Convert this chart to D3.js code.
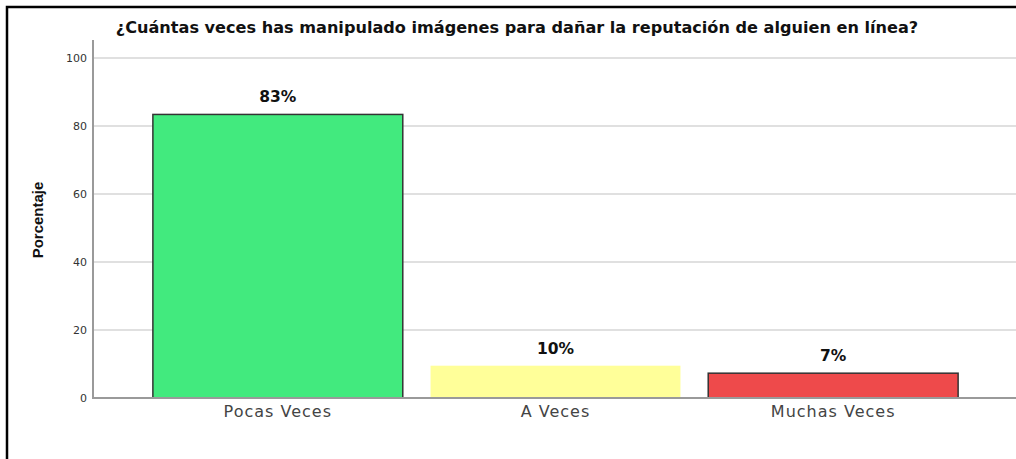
<!DOCTYPE html>
<html>
<head>
<meta charset="utf-8">
<script src="https://cdn.jsdelivr.net/npm/d3@7"></script>
<style>
  body { margin: 0; background: #fff; }
  svg { display: block; }
</style>
</head>
<body>
<svg width="1016" height="459"></svg>
<script>
var categories = ['Pocas Veces', 'A Veces', 'Muchas Veces'];
var values = [83.4, 9.5, 7.3];
var labels = ['83%', '10%', '7%'];
var colors = ['#42ea7e', '#ffff99', '#ee4a4b'];
var strokes = ['#333', 'none', '#333'];
var yTicks = [0, 20, 40, 60, 80, 100];

var FONT = 'DejaVu Sans, Verdana, sans-serif';

function drawChart() {
  var svg = d3.select('svg');
  svg.selectAll('*').remove();

  // outer frame
  svg.append('path')
    .attr('d', 'M7,459 V7 H1016')
    .attr('fill', 'none')
    .attr('stroke', '#000')
    .attr('stroke-width', 2.5);

  var x = d3.scaleBand()
    .domain(categories)
    .range([139, 972])
    .paddingInner(0.1)
    .paddingOuter(0.05);
  var y = d3.scaleLinear().domain([0, 100]).range([398, 58]);

  // gridlines
  svg.append('g')
    .selectAll('line')
    .data(yTicks.filter(function (d) { return d > 0; }))
    .enter()
    .append('line')
    .attr('x1', 93)
    .attr('x2', 1016)
    .attr('y1', function (d) { return y(d); })
    .attr('y2', function (d) { return y(d); })
    .attr('stroke', '#d6d6d6')
    .attr('stroke-width', 1.5);

  // y axis
  var yAxis = svg.append('g')
    .attr('transform', 'translate(93,0)')
    .call(d3.axisLeft(y).tickValues(yTicks).tickSize(0).tickPadding(6));
  yAxis.select('.domain').remove();
  yAxis.selectAll('text')
    .attr('font-family', FONT)
    .attr('font-size', 11)
    .attr('fill', '#333');

  svg.append('line')
    .attr('x1', 93).attr('x2', 93)
    .attr('y1', 40).attr('y2', 399)
    .attr('stroke', '#9a9a9a')
    .attr('stroke-width', 2);

  // bars
  svg.append('g')
    .selectAll('rect')
    .data(values)
    .enter()
    .append('rect')
    .attr('x', function (d, i) { return x(categories[i]); })
    .attr('y', function (d) { return y(d); })
    .attr('width', x.bandwidth())
    .attr('height', function (d) { return y(0) - y(d); })
    .attr('fill', function (d, i) { return colors[i]; })
    .attr('stroke', function (d, i) { return strokes[i]; })
    .attr('stroke-width', 1.5);

  // baseline
  svg.append('line')
    .attr('x1', 92).attr('x2', 1016)
    .attr('y1', 398).attr('y2', 398)
    .attr('stroke', '#9a9a9a')
    .attr('stroke-width', 2);

  // value labels
  svg.append('g')
    .selectAll('text')
    .data(values)
    .enter()
    .append('text')
    .attr('x', function (d, i) { return x(categories[i]) + x.bandwidth() / 2; })
    .attr('y', function (d) { return y(d) - 12; })
    .attr('text-anchor', 'middle')
    .attr('font-family', FONT)
    .attr('font-weight', 'bold')
    .attr('font-size', 15.5)
    .attr('fill', '#111')
    .text(function (d, i) { return labels[i]; });

  // category labels
  svg.append('g')
    .selectAll('text')
    .data(categories)
    .enter()
    .append('text')
    .attr('x', function (d) { return x(d) + x.bandwidth() / 2; })
    .attr('y', 417)
    .attr('text-anchor', 'middle')
    .attr('font-family', FONT)
    .attr('font-size', 16)
    .attr('letter-spacing', 1)
    .attr('fill', '#444')
    .text(function (d) { return d; });

  // title, sized to span the same width as the original
  var title = svg.append('text')
    .attr('x', 517)
    .attr('y', 33)
    .attr('text-anchor', 'middle')
    .attr('font-family', FONT)
    .attr('font-weight', 'bold')
    .attr('font-size', 15)
    .attr('fill', '#111')
    .text('¿Cuántas veces has manipulado imágenes para dañar la reputación de alguien en línea?');
  var w = title.node().getComputedTextLength();
  title.attr('font-size', 15 * 803 / w);

  // y title
  svg.append('text')
    .attr('transform', 'translate(43,220) rotate(-90)')
    .attr('text-anchor', 'middle')
    .attr('font-family', 'Liberation Sans Narrow, Arial Narrow, Liberation Sans, sans-serif')
    .attr('font-weight', 'bold')
    .attr('font-size', 15)
    .attr('fill', '#111')
    .text('Porcentaje');
}

drawChart();
</script>
</body>
</html>
